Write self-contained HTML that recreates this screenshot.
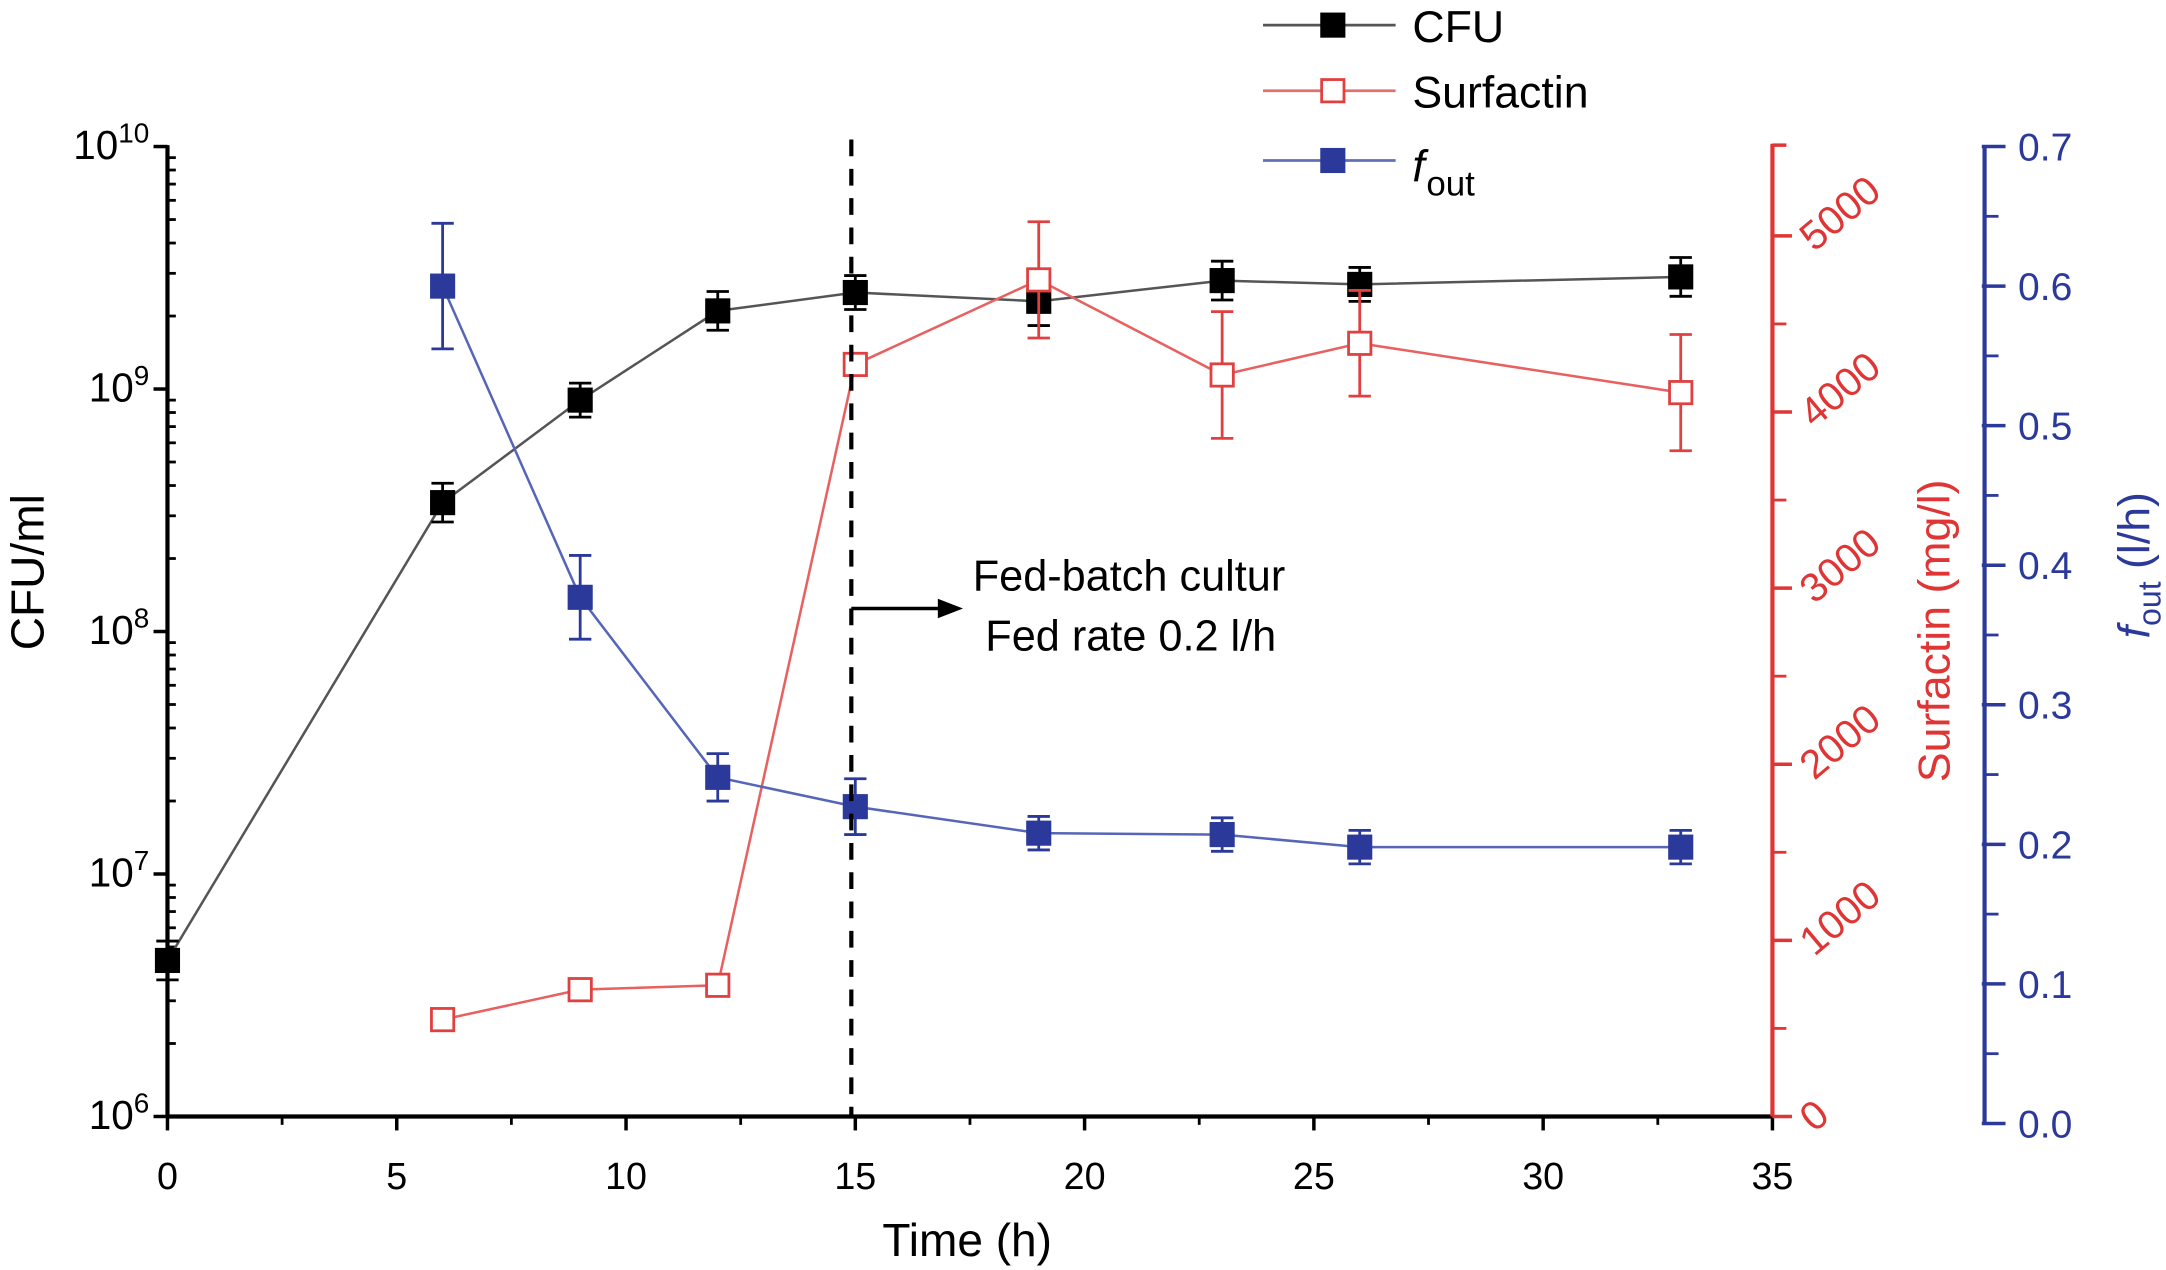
<!DOCTYPE html>
<html><head><meta charset="utf-8"><style>
html,body{margin:0;padding:0;background:#fff;}
svg{display:block;font-family:"Liberation Sans",Arial,sans-serif;}
</style></head><body>
<svg id="chart" width="2166" height="1270" viewBox="0 0 1552 910" preserveAspectRatio="none" xmlns="http://www.w3.org/2000/svg">
<g id="axes"></g><g id="series"></g>
<g>
 <g><line x1="905" y1="18" x2="1000" y2="18" stroke="#555" stroke-width="2"/><rect x="946" y="9" width="18" height="18" fill="#000"/><text x="1012" y="30" font-size="32">CFU</text></g>
 <g><line x1="905" y1="65" x2="1000" y2="65" stroke="#e07070" stroke-width="2"/><rect x="947" y="57" width="16" height="16" fill="#fff" stroke="#e04040" stroke-width="2"/><text x="1012" y="77" font-size="32">Surfactin</text></g>
 <g><line x1="905" y1="115" x2="1000" y2="115" stroke="#6070b0" stroke-width="2"/><rect x="946" y="106" width="18" height="18" fill="#2b3a9a"/><text x="1012" y="130" font-size="32" font-style="italic">f</text><text x="1022" y="140" font-size="25">out</text></g>
</g>
<g>
 <line x1="610" y1="100" x2="610" y2="800" stroke="#000" stroke-width="3" stroke-dasharray="12,9"/>
 <line x1="610" y1="436" x2="675" y2="436" stroke="#000" stroke-width="2.5"/>
 <polygon points="690,436 672,429 672,443" fill="#000"/>
 <text x="697" y="423" font-size="31">Fed-batch cultur</text>
 <text x="706" y="466" font-size="31">Fed rate 0.2 l/h</text>
</g>
</svg>
<script>
const times=[0,6,9,12,15,19,23,26,33];
const cfu=[4.4e6,3.4e8,9e8,2.1e9,2.5e9,2.3e9,2.8e9,2.7e9,2.9e9];
const cfuErrLog=[0.08,0.08,0.07,0.08,0.07,0.1,0.08,0.07,0.08];
const surfTimes=[6,9,12,15,19,23,26,33];
const surf=[550,720,745,4270,4750,4210,4390,4110];
const surfErr=[0,0,40,0,330,360,300,330];
const foutTimes=[6,9,12,15,19,23,26,33];
const fout=[0.6,0.377,0.248,0.227,0.208,0.207,0.198,0.198];
const foutErr=[0.045,0.03,0.017,0.02,0.012,0.012,0.012,0.012];
const xTicks=[0,5,10,15,20,25,30,35];
const surfTicks=[0,1000,2000,3000,4000,5000];
const foutTicks=[0,0.1,0.2,0.3,0.4,0.5,0.6,0.7];
const logTicks=[6,7,8,9,10];

const X=t=>120+t*(1150/35);
const YL=v=>800-(Math.log10(v)-6)*173.75;
const YLl=l=>800-(l-6)*173.75;
const YS=v=>800-v*0.1262;
const YF=v=>805-v*1000;
const NS="http://www.w3.org/2000/svg";
function mk(p,tag,attrs,txt){const e=document.createElementNS(NS,tag);for(const k in attrs)e.setAttribute(k,attrs[k]);if(txt!==undefined)e.textContent=txt;p.appendChild(e);return e;}
const ax=document.getElementById('axes'),se=document.getElementById('series');
let g=mk(ax,'g',{});


mk(g,'line',{x1:120,y1:104,x2:120,y2:801,stroke:'#000','stroke-width':3});
logTicks.forEach(l=>{const y=YLl(l);mk(g,'line',{x1:110,y1:y,x2:120,y2:y,stroke:'#000','stroke-width':2.5});
 const t=mk(g,'text',{x:107,y:y+9,'font-size':29,'text-anchor':'end'});t.innerHTML='10<tspan dy="-12" font-size="20">'+l+'</tspan>';
 if(l<10)for(let m=2;m<10;m++){const yy=YLl(l+Math.log10(m));mk(g,'line',{x1:120,y1:yy,x2:126,y2:yy,stroke:'#000','stroke-width':2});}});
const yt=mk(g,'text',{x:0,y:0,'font-size':33,'text-anchor':'middle',transform:'translate(31,410) rotate(-90)'},'CFU/ml');

g=mk(ax,'g',{});


mk(g,'line',{x1:119,y1:800,x2:1270,y2:800,stroke:'#000','stroke-width':3});
xTicks.forEach((t,i)=>{const x=X(t);mk(g,'line',{x1:x,y1:800,x2:x,y2:810,stroke:'#000','stroke-width':2.5});mk(g,'text',{x:x,y:852,'font-size':27,'text-anchor':'middle'},String(t));
 if(i<xTicks.length-1){const xm=X(t+2.5);mk(g,'line',{x1:xm,y1:800,x2:xm,y2:806,stroke:'#000','stroke-width':2});}});
const xt=mk(g,'text',{x:693,y:900,'font-size':33,'text-anchor':'middle'},'Time (h)');

g=mk(ax,'g',{});


mk(g,'line',{x1:1270,y1:103,x2:1270,y2:800,stroke:'#e03535','stroke-width':3});
mk(g,'line',{x1:1270,y1:104,x2:1280,y2:104,stroke:'#e03535','stroke-width':2.5});
surfTicks.forEach((v,i)=>{const y=YS(v);mk(g,'line',{x1:1270,y1:y,x2:1284,y2:y,stroke:'#e03535','stroke-width':2.5});
 mk(g,'text',{x:0,y:0,'font-size':29,fill:'#e03535',transform:'translate(1300,'+(y+12)+') rotate(-40)'},String(v));
 if(i<surfTicks.length-1){const ym=YS(v+500);mk(g,'line',{x1:1270,y1:ym,x2:1280,y2:ym,stroke:'#e03535','stroke-width':2});}});
const st=mk(g,'text',{x:0,y:0,'font-size':32,fill:'#e03535','text-anchor':'middle',transform:'translate(1397,452) rotate(-90)'},'Surfactin (mg/l)');

g=mk(ax,'g',{});


mk(g,'line',{x1:1422,y1:104,x2:1422,y2:806,stroke:'#2b3a9a','stroke-width':3});
foutTicks.forEach((v,i)=>{const y=YF(v);mk(g,'line',{x1:1420,y1:y,x2:1437,y2:y,stroke:'#2b3a9a','stroke-width':2.5});
 mk(g,'text',{x:1446,y:y+10,'font-size':28,fill:'#2b3a9a'},v.toFixed(1));
 if(i<foutTicks.length-1){const ym=YF(v+0.05);mk(g,'line',{x1:1422,y1:ym,x2:1432,y2:ym,stroke:'#2b3a9a','stroke-width':2});}});
const ft=mk(g,'text',{x:0,y:0,'font-size':32,fill:'#2b3a9a','text-anchor':'middle',transform:'translate(1540,405) rotate(-90)'});
ft.innerHTML='<tspan font-style="italic">f</tspan><tspan dy="8" font-size="23">out</tspan><tspan dy="-8"> (l/h)</tspan>';

function errbar(p,x,y1,y2,col){if(Math.abs(y2-y1)<2)return;mk(p,'line',{x1:x,y1:y1,x2:x,y2:y2,stroke:col,'stroke-width':2});mk(p,'line',{x1:x-8,y1:y1,x2:x+8,y2:y1,stroke:col,'stroke-width':2});mk(p,'line',{x1:x-8,y1:y2,x2:x+8,y2:y2,stroke:col,'stroke-width':2});}
let sg=mk(se,'g',{});


mk(sg,'polyline',{points:times.map((t,i)=>X(t)+','+YL(cfu[i])).join(' '),fill:'none',stroke:'#555','stroke-width':1.8});
times.forEach((t,i)=>{const l=Math.log10(cfu[i]);errbar(sg,X(t),YLl(l+cfuErrLog[i]),YLl(l-cfuErrLog[i]),'#000');
 const r=mk(sg,'rect',{x:X(t)-9,y:YL(cfu[i])-9,width:18,height:18,fill:'#000'});
 
 });
sg=mk(se,'g',{});


mk(sg,'polyline',{points:surfTimes.map((t,i)=>X(t)+','+YS(surf[i])).join(' '),fill:'none',stroke:'#e86060','stroke-width':1.8});
surfTimes.forEach((t,i)=>{errbar(sg,X(t),YS(surf[i]+surfErr[i]),YS(surf[i]-surfErr[i]),'#e04040');
 const r=mk(sg,'rect',{x:X(t)-8,y:YS(surf[i])-8,width:16,height:16,fill:'#fff',stroke:'#e04040','stroke-width':2});
 
 });
sg=mk(se,'g',{});


mk(sg,'polyline',{points:foutTimes.map((t,i)=>X(t)+','+YF(fout[i])).join(' '),fill:'none',stroke:'#5566b8','stroke-width':1.8});
foutTimes.forEach((t,i)=>{errbar(sg,X(t),YF(fout[i]+foutErr[i]),YF(fout[i]-foutErr[i]),'#2b3a9a');
 const r=mk(sg,'rect',{x:X(t)-9,y:YF(fout[i])-9,width:18,height:18,fill:'#2b3a9a'});
 
 });
</script>
</body></html>
